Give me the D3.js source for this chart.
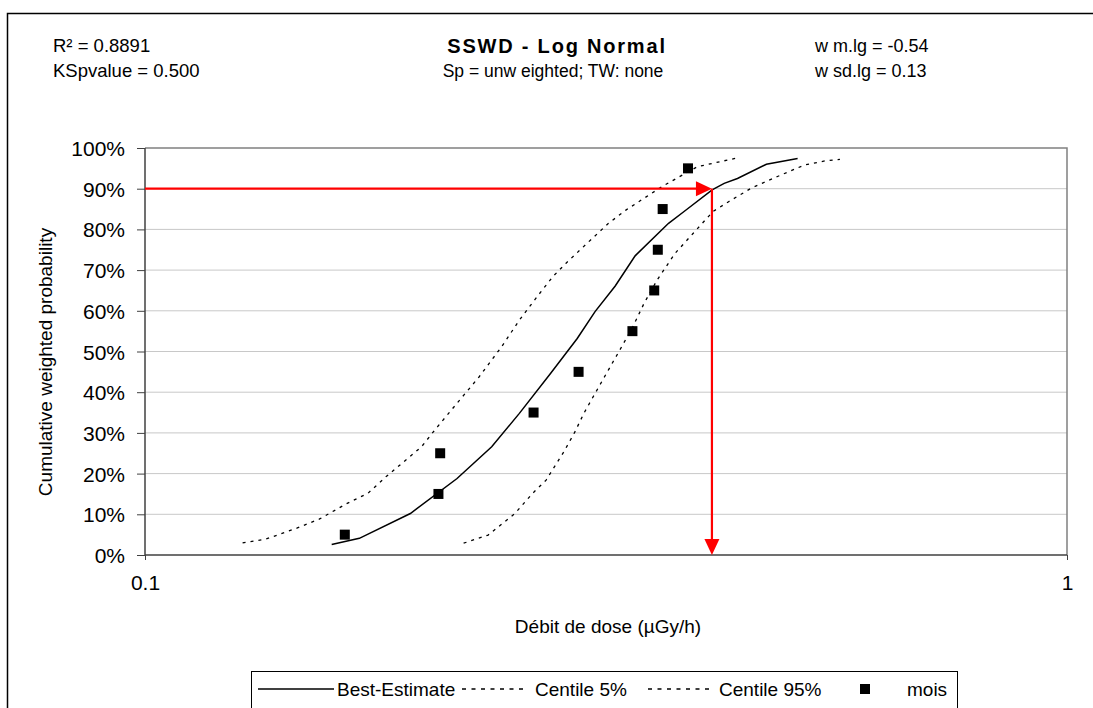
<!DOCTYPE html>
<html>
<head>
<meta charset="utf-8">
<script src="https://cdn.jsdelivr.net/npm/d3@7"></script>
<style>
  body { margin: 0; background: #fff; }
  text { font-family: "Liberation Sans", Arial, sans-serif; fill: #000; }
</style>
</head>
<body>
<div id="chart"></div>
<script>
// Data (x = dose rate, p = cumulative probability)
var bestX = [0.1594, 0.1708, 0.1940, 0.2180, 0.2377, 0.2547, 0.2753, 0.2943, 0.3077, 0.3236, 0.3401, 0.3697, 0.3843, 0.4122, 0.4248, 0.4391, 0.4720, 0.5103];
var bestP = [0.026, 0.041, 0.102, 0.188, 0.266, 0.348, 0.446, 0.532, 0.598, 0.661, 0.735, 0.815, 0.844, 0.897, 0.913, 0.925, 0.960, 0.974];

var c5X = [0.1276, 0.1352, 0.1461, 0.1545, 0.1651, 0.1746, 0.1825, 0.1929, 0.1995, 0.2062, 0.2180, 0.2304, 0.2437, 0.2547, 0.2663, 0.2769, 0.2862, 0.3043, 0.3182, 0.3326, 0.3635, 0.3972, 0.4416];
var c5P = [0.030, 0.039, 0.066, 0.088, 0.125, 0.152, 0.192, 0.238, 0.266, 0.307, 0.373, 0.438, 0.512, 0.577, 0.635, 0.684, 0.717, 0.774, 0.815, 0.848, 0.905, 0.954, 0.977];

var c95X = [0.2216, 0.2356, 0.2519, 0.2634, 0.2723, 0.2847, 0.2927, 0.2992, 0.3077, 0.3182, 0.3289, 0.3382, 0.3477, 0.3594, 0.3757, 0.3930, 0.4131, 0.4295, 0.4542, 0.4853, 0.5188, 0.5485, 0.5672];
var c95P = [0.029, 0.049, 0.102, 0.152, 0.184, 0.254, 0.303, 0.348, 0.397, 0.455, 0.512, 0.561, 0.618, 0.676, 0.741, 0.790, 0.844, 0.868, 0.901, 0.930, 0.958, 0.969, 0.972];

var moisX = [0.1647, 0.2081, 0.2090, 0.2639, 0.2953, 0.3378, 0.3567, 0.3599, 0.3643, 0.3881];
var moisP = [0.05, 0.15, 0.25, 0.35, 0.45, 0.55, 0.65, 0.75, 0.85, 0.95];

var yTicks = [0, 0.1, 0.2, 0.3, 0.4, 0.5, 0.6, 0.7, 0.8, 0.9, 1];
var xTicks = [0.1, 1];

var arrowX = 0.412;
var arrowP = 0.9;

var statsLeft = ["R² = 0.8891", "KSpvalue = 0.500"];
var statsRight = ["w m.lg = -0.54", "w sd.lg = 0.13"];

// SVG size and plot area
var svgWidth = 1093;
var svgHeight = 708;
var plot = { left: 145, right: 1067, top: 148, bottom: 555 };

var svg = d3.select("#chart")
  .append("svg")
  .attr("width", svgWidth)
  .attr("height", svgHeight);

// Outer chart frame
svg.append("rect")
  .attr("x", 7.5)
  .attr("y", 13.5)
  .attr("width", svgWidth)
  .attr("height", svgHeight)
  .attr("fill", "none")
  .attr("stroke", "#000")
  .attr("stroke-width", 1.5);

var xScale = d3.scaleLog()
  .domain([0.1, 1])
  .range([plot.left, plot.right]);

var yScale = d3.scaleLinear()
  .domain([0, 1])
  .range([plot.bottom, plot.top]);

// Gridlines
svg.append("g")
  .selectAll("line")
  .data(yTicks.slice(1, -1))
  .enter()
  .append("line")
  .attr("x1", plot.left)
  .attr("x2", plot.right)
  .attr("y1", d => yScale(d))
  .attr("y2", d => yScale(d))
  .attr("stroke", "#c8c8c8")
  .attr("stroke-width", 1);

// Plot frame (top and right)
svg.append("path")
  .attr("d", `M${plot.left},${plot.top}H${plot.right}V${plot.bottom}`)
  .attr("fill", "none")
  .attr("stroke", "#808080")
  .attr("stroke-width", 1.5);

// Axes
var leftAxis = d3.axisLeft(yScale)
  .tickValues(yTicks)
  .tickFormat(d3.format(".0%"))
  .tickSize(8)
  .tickPadding(12);

var bottomAxis = d3.axisBottom(xScale)
  .tickValues(xTicks)
  .tickFormat(d => d === 1 ? "1" : "0.1")
  .tickSize(5)
  .tickPadding(15);

var yAxis = svg.append("g")
  .attr("transform", `translate(${plot.left},0)`)
  .call(leftAxis);

var xAxis = svg.append("g")
  .attr("transform", `translate(0,${plot.bottom})`)
  .call(bottomAxis);

[xAxis, yAxis].forEach(function(ax) {
  ax.select(".domain").attr("stroke", "#404040").attr("stroke-width", 1.5);
  ax.selectAll(".tick line").attr("stroke", "#404040");
  ax.selectAll(".tick text")
    .attr("font-size", "21px")
    .attr("font-family", "'Liberation Sans', Arial, sans-serif")
    .attr("fill", "#000");
});
yAxis.selectAll(".tick text").attr("dy", "0.36em");
xAxis.select(".domain").attr("d", `M${plot.left},0H${plot.right}`);
yAxis.select(".domain").attr("d", `M0,${plot.top}V${plot.bottom}`);

// Curves
var line = d3.line()
  .x(d => xScale(d[0]))
  .y(d => yScale(d[1]));

svg.append("path")
  .datum(d3.zip(c5X, c5P))
  .attr("d", line)
  .attr("fill", "none")
  .attr("stroke", "#000")
  .attr("stroke-width", 1.3)
  .attr("stroke-dasharray", "3,5");

svg.append("path")
  .datum(d3.zip(c95X, c95P))
  .attr("d", line)
  .attr("fill", "none")
  .attr("stroke", "#000")
  .attr("stroke-width", 1.3)
  .attr("stroke-dasharray", "3,5");

svg.append("path")
  .datum(d3.zip(bestX, bestP))
  .attr("d", line)
  .attr("fill", "none")
  .attr("stroke", "#000")
  .attr("stroke-width", 1.5);

// Observed points
svg.append("g")
  .selectAll("rect")
  .data(d3.zip(moisX, moisP))
  .enter()
  .append("rect")
  .attr("x", d => xScale(d[0]) - 5)
  .attr("y", d => yScale(d[1]) - 5)
  .attr("width", 10)
  .attr("height", 10)
  .attr("fill", "#000");

// Red arrows for the 90% centile
var ax = xScale(arrowX);
var ay = yScale(arrowP);
svg.append("line")
  .attr("x1", plot.left).attr("x2", ax - 14)
  .attr("y1", ay).attr("y2", ay)
  .attr("stroke", "#ff0000").attr("stroke-width", 2.2);
svg.append("path")
  .attr("d", `M${ax},${ay}L${ax - 16},${ay - 7.5}L${ax - 16},${ay + 7.5}Z`)
  .attr("fill", "#ff0000");
svg.append("line")
  .attr("x1", ax).attr("x2", ax)
  .attr("y1", ay).attr("y2", plot.bottom - 14)
  .attr("stroke", "#ff0000").attr("stroke-width", 2.2);
svg.append("path")
  .attr("d", `M${ax},${plot.bottom}L${ax - 7.5},${plot.bottom - 16}L${ax + 7.5},${plot.bottom - 16}Z`)
  .attr("fill", "#ff0000");

// Header texts
svg.selectAll(".statL")
  .data(statsLeft)
  .enter()
  .append("text")
  .attr("x", 53)
  .attr("y", (d, i) => 52 + i * 25)
  .attr("font-size", "18.5px")
  .text(d => d);

svg.selectAll(".statR")
  .data(statsRight)
  .enter()
  .append("text")
  .attr("x", 815)
  .attr("y", (d, i) => 52 + i * 25)
  .attr("font-size", "18px")
  .text(d => d);

svg.append("text")
  .attr("x", 557)
  .attr("y", 53)
  .attr("text-anchor", "middle")
  .attr("font-size", "20px")
  .attr("font-weight", "bold")
  .attr("letter-spacing", "1.8px")
  .text("SSWD - Log Normal");

svg.append("text")
  .attr("x", 553)
  .attr("y", 77)
  .attr("text-anchor", "middle")
  .attr("font-size", "17.5px")
  .text("Sp = unw eighted; TW: none");

// Axis titles
svg.append("text")
  .attr("x", 608)
  .attr("y", 633)
  .attr("text-anchor", "middle")
  .attr("font-size", "19px")
  .text("Débit de dose (µGy/h)");

svg.append("text")
  .attr("transform", `translate(52,362) rotate(-90)`)
  .attr("text-anchor", "middle")
  .attr("font-size", "19px")
  .text("Cumulative weighted probability");

// Legend
var legend = svg.append("g");
legend.append("rect")
  .attr("x", 251.5)
  .attr("y", 671.5)
  .attr("width", 706)
  .attr("height", 50)
  .attr("fill", "#fff")
  .attr("stroke", "#000")
  .attr("stroke-width", 1);

var legY = 689;
legend.append("line")
  .attr("x1", 258).attr("x2", 334)
  .attr("y1", legY).attr("y2", legY)
  .attr("stroke", "#000").attr("stroke-width", 1.5);
legend.append("line")
  .attr("x1", 462).attr("x2", 528)
  .attr("y1", legY).attr("y2", legY)
  .attr("stroke", "#000").attr("stroke-width", 1.3)
  .attr("stroke-dasharray", "4,5.5");
legend.append("line")
  .attr("x1", 648).attr("x2", 714)
  .attr("y1", legY).attr("y2", legY)
  .attr("stroke", "#000").attr("stroke-width", 1.3)
  .attr("stroke-dasharray", "4,5.5");
legend.append("rect")
  .attr("x", 860).attr("y", legY - 5)
  .attr("width", 10).attr("height", 10)
  .attr("fill", "#000");

var legendLabels = ["Best-Estimate", "Centile 5%", "Centile 95%", "mois"];
var legendX = [337, 535, 719, 907];
legend.selectAll("text")
  .data(legendLabels)
  .enter()
  .append("text")
  .attr("x", (d, i) => legendX[i])
  .attr("y", legY + 7)
  .attr("font-size", "19px")
  .text(d => d);
</script>
</body>
</html>
